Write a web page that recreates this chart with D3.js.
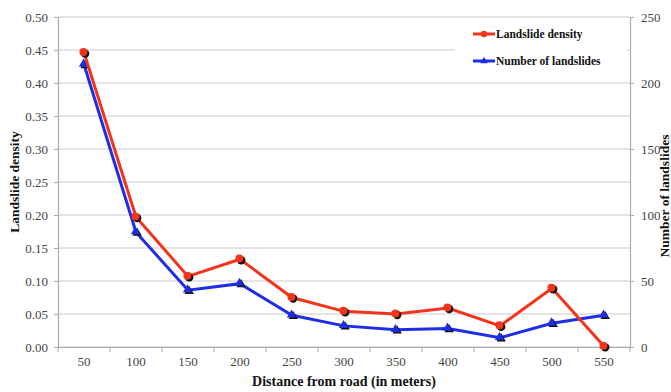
<!DOCTYPE html>
<html>
<head>
<meta charset="utf-8">
<script src="https://cdn.jsdelivr.net/npm/d3@7"></script>
<style>
  body { margin: 0; background: #fff; }
  svg { display: block; font-family: "Liberation Serif", "Times New Roman", serif; }
</style>
</head>
<body>
<svg id="chart" width="671" height="392"></svg>
<script>
// data
var distances = ["50", "100", "150", "200", "250", "300", "350", "400", "450", "500", "550"];
var density = [0.446, 0.197, 0.107, 0.133, 0.075, 0.054, 0.050, 0.059, 0.032, 0.089, 0.001];
var landslides = [214, 87, 43, 48, 24, 16, 13, 14, 7, 18, 24];
var densityTicks = [0, 0.05, 0.1, 0.15, 0.2, 0.25, 0.3, 0.35, 0.4, 0.45, 0.5];
var countTicks = [0, 50, 100, 150, 200, 250];

var margin = {top: 17, right: 41, bottom: 45, left: 58},
    width = 671 - margin.left - margin.right,
    height = 392 - margin.top - margin.bottom;

var serif = '"Liberation Serif", "Times New Roman", serif';

var svg = d3.select("#chart"),
    g = svg.append("g").attr("transform", "translate(" + margin.left + "," + margin.top + ")");

var x = d3.scaleBand().domain(distances).range([0, width]);
var y = d3.scaleLinear().domain([0, 0.5]).range([height, 0]);
var y2 = d3.scaleLinear().domain([0, 250]).range([height, 0]);

// gridlines
g.append("g")
  .selectAll("line")
  .data(densityTicks)
  .join("line")
  .attr("x1", 0).attr("x2", width)
  .attr("y1", d => y(d)).attr("y2", d => y(d))
  .attr("stroke", "#c9c9c9")
  .attr("stroke-width", 1.2);

// axes
var yAxis = g.append("g")
  .call(d3.axisLeft(y).tickValues(densityTicks).tickFormat(d3.format(".2f")).tickSizeOuter(0).tickSize(4).tickPadding(6));
var y2Axis = g.append("g")
  .attr("transform", "translate(" + width + ",0)")
  .call(d3.axisRight(y2).tickValues(countTicks).tickSizeOuter(0).tickSize(4).tickPadding(7));

var xAxis = g.append("g")
  .attr("transform", "translate(0," + height + ")")
  .call(d3.axisBottom(x).tickSize(0).tickPadding(10));
// ticks between categories
xAxis.selectAll(".sep")
  .data(d3.range(distances.length + 1))
  .join("line")
  .attr("class", "sep")
  .attr("x1", i => i * x.bandwidth()).attr("x2", i => i * x.bandwidth())
  .attr("y1", 0).attr("y2", 5)
  .attr("stroke", "#aaa");

[yAxis, y2Axis, xAxis].forEach(a => {
  a.attr("font-family", serif).attr("font-size", 13);
  a.select(".domain").attr("stroke", "#aaa").attr("stroke-width", 1.2);
  a.selectAll(".tick line").attr("stroke", "#aaa");
  a.selectAll(".tick text").attr("fill", "#444");
});

// lines
var cx = (d, i) => x(distances[i]) + x.bandwidth() / 2;
var blueLine = d3.line().x(cx).y(d => y2(d));
var redLine = d3.line().x(cx).y(d => y(d));

g.append("path").datum(landslides)
  .attr("fill", "none").attr("stroke", "#1f2ee6").attr("stroke-width", 3)
  .attr("d", blueLine);
var tri = d3.symbol().type(d3.symbolTriangle).size(38);
g.append("g").selectAll("path")
  .data(landslides)
  .join("path")
  .attr("d", tri)
  .attr("fill", "#111")
  .attr("transform", (d, i) => "translate(" + (cx(d, i) + 1.2) + "," + (y2(d) + 1) + ")");
g.append("g").selectAll("path")
  .data(landslides)
  .join("path")
  .attr("d", tri)
  .attr("fill", "#1f2ee6")
  .attr("transform", (d, i) => "translate(" + (cx(d, i) - 0.5) + "," + (y2(d) - 0.5) + ")");

g.append("path").datum(density)
  .attr("fill", "none").attr("stroke", "#f2341c").attr("stroke-width", 3)
  .attr("d", redLine);
g.append("g").selectAll("circle")
  .data(density)
  .join("circle")
  .attr("cx", (d, i) => cx(d, i) + 1.2).attr("cy", d => y(d) + 1)
  .attr("r", 4.2).attr("fill", "#111");
g.append("g").selectAll("circle")
  .data(density)
  .join("circle")
  .attr("cx", (d, i) => cx(d, i) - 0.6).attr("cy", d => y(d) - 0.6)
  .attr("r", 4).attr("fill", "#f2341c");

// legend
var legend = g.append("g").attr("transform", "translate(" + (455 - margin.left) + "," + (20 - margin.top) + ")");
legend.append("rect").attr("width", 172).attr("height", 60).attr("fill", "#fff");
var items = [
  {name: "Landslide density", color: "#f2341c", shape: "circle"},
  {name: "Number of landslides", color: "#1f2ee6", shape: "tri"}
];
items.forEach((it, i) => {
  var row = legend.append("g").attr("transform", "translate(18," + (14 + i * 27) + ")");
  row.append("line").attr("x1", 0).attr("x2", 22).attr("stroke", it.color).attr("stroke-width", 3);
  if (it.shape == "circle")
    row.append("circle").attr("cx", 11).attr("r", 3.2).attr("fill", it.color);
  else
    row.append("path").attr("d", d3.symbol().type(d3.symbolTriangle).size(24)).attr("transform", "translate(11,0)").attr("fill", it.color);
  row.append("text").attr("x", 23).attr("y", 4)
    .attr("font-size", 11.5).attr("font-weight", "bold").attr("fill", "#111")
    .text(it.name);
});

// axis titles
svg.append("text")
  .attr("x", margin.left + width / 2).attr("y", 386)
  .attr("text-anchor", "middle").attr("font-size", 14).attr("font-weight", "bold").attr("fill", "#111")
  .text("Distance from road (in meters)");
svg.append("text")
  .attr("transform", "translate(19," + (margin.top + height / 2) + ") rotate(-90)")
  .attr("text-anchor", "middle").attr("font-size", 13.5).attr("font-weight", "bold").attr("fill", "#111")
  .text("Landslide density");
svg.append("text")
  .attr("transform", "translate(668.5,196) rotate(-90)")
  .attr("text-anchor", "middle").attr("font-size", 13.5).attr("font-weight", "bold").attr("fill", "#111")
  .text("Number of landslides");
</script>
</body>
</html>
